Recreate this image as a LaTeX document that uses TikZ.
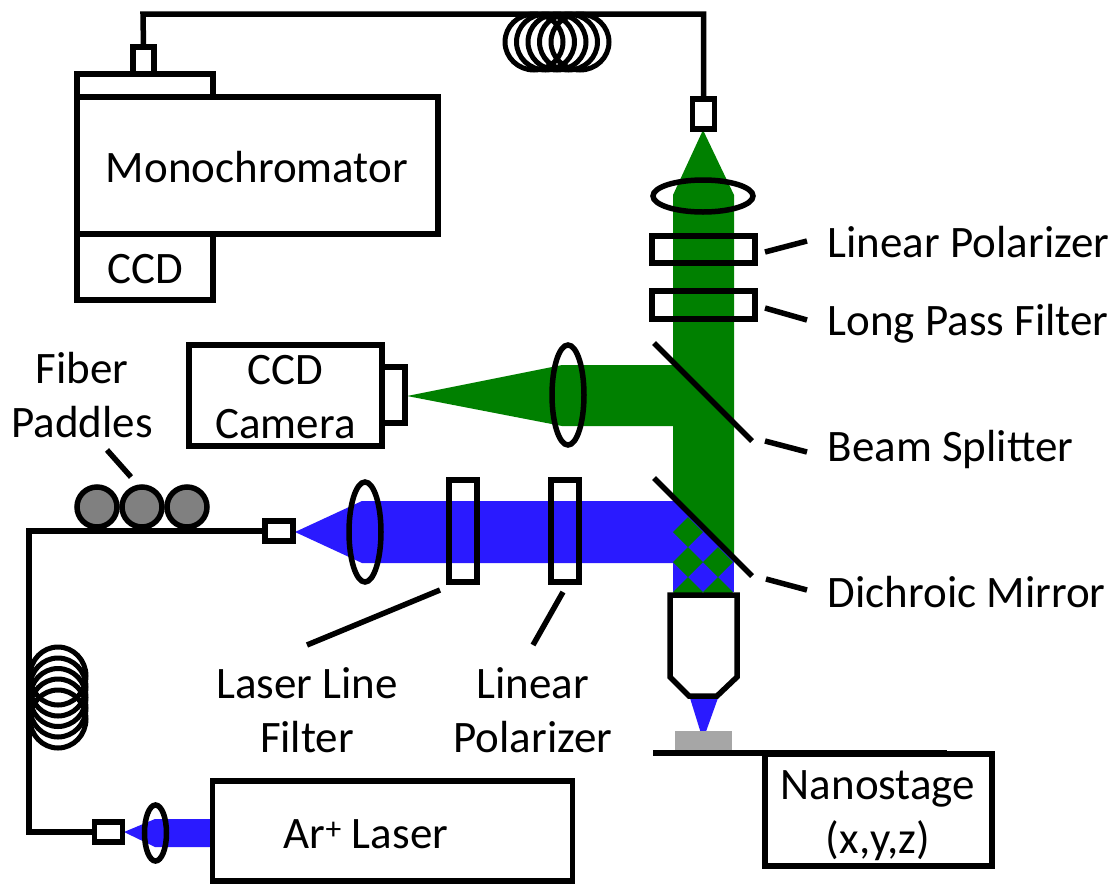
\documentclass[tikz,border=0pt]{standalone}
\usepackage{fontspec}
\setmainfont{Carlito}
\usetikzlibrary{shapes.geometric}
\definecolor{beamgreen}{RGB}{0,128,0}
\definecolor{beamblue}{RGB}{42,26,255}
\tikzset{
boxnode/.style={draw,rectangle,fill=white,inner sep=0pt,outer sep=0pt},
opennode/.style={draw,rectangle,inner sep=0pt,outer sep=0pt},
lensnode/.style={draw,ellipse,inner sep=0pt,outer sep=0pt},
paddlenode/.style={draw,circle,fill=black!50,minimum size=40,inner sep=0pt},
labelnode/.style={anchor=base west,inner sep=0pt},
textnode/.style={align=center,inner sep=0pt},
}
\begin{document}
\begin{tikzpicture}[x=1pt,y=-1pt,line width=5.5pt,font=\fontsize{45}{54}\selectfont]
\useasboundingbox(0,0)rectangle(1114,884);
\fill[beamblue](295,532)--(362,501)--(690,501)--(690,563)--(362,563)--cycle;
\fill[beamblue](673,499)rectangle(734,592);
\fill[beamgreen](407,396)--(562,365)--(680,365)--(680,426)--(562,426)--cycle;
\fill[beamgreen](703,130)--(734,195)--(734,560)--(673,499)--(673,195)--cycle;
\foreach \i/\j in {688/532,688/562,718/562,688/592,718/592}
\fill[beamgreen](\i-15,\j)--(\i,\j-15)--(\i+15,\j)--(\i,\j+15)--cycle;
\fill[beamblue](690,698)--(718,698)--(703,740)--cycle;
\fill[black!35](675,731)rectangle(732,751);
\fill[beamblue](124,832)--(155,819)--(211,819)--(211,847)--(155,847)--cycle;
\node[boxnode,minimum width=136,minimum height=23](slit)at(145,85.5){};
\node[boxnode,minimum width=361,minimum height=137](mono)at(257.5,165.5){};
\node[textnode](monotext)at(257,167){Monochromator};
\node[boxnode,minimum width=136,minimum height=66](ccd)at(145,267){};
\node[textnode](ccdtext)at(145,269){CCD};
\node[boxnode,minimum width=21,minimum height=27](monoport)at(143.5,60.5){};
\node[boxnode,minimum width=22,minimum height=30](topport)at(703.5,114){};
\node[boxnode,minimum width=193,minimum height=101](camera)at(285.5,395.5){};
\node[textnode](cameratext)at(285.5,397.5){CCD\\Camera};
\node[boxnode,minimum width=23,minimum height=56](cameraport)at(393.5,395){};
\node[boxnode,minimum width=360,minimum height=100](laser)at(392.5,831){};
\node[textnode](lasertext)at(366,834){Ar\textsuperscript{+} Laser};
\node[boxnode,minimum width=227,minimum height=112](stage)at(878.5,810){};
\node[textnode](stagetext)at(878,816){Nanostage\\(x,y,z)};
\node[boxnode,minimum width=28,minimum height=20](launchport)at(108.5,832){};
\node[boxnode,minimum width=28,minimum height=20](beamport)at(279,531){};
\node[lensnode,minimum width=100,minimum height=32](toplens)at(703,196){};
\node[opennode,minimum width=103,minimum height=27](toppol)at(703.5,249.5){};
\node[opennode,minimum width=103,minimum height=28](lpf)at(703.5,305){};
\node[lensnode,minimum width=32,minimum height=100](cameralens)at(568,395){};
\node[lensnode,minimum width=32,minimum height=100](beamlens)at(365,532){};
\node[opennode,minimum width=28,minimum height=102](llf)at(463,531){};
\node[opennode,minimum width=28,minimum height=102](bluepol)at(565,531){};
\node[lensnode,minimum width=22,minimum height=56](launchlens)at(155.5,833){};
\foreach \i/\n in {97/a,142/b,187/c}
\node[paddlenode](paddle\n)at(\i,507){};
\node[labelnode](lbltoppol)at(825,257){Linear Polarizer};
\node[labelnode](lbllpf)at(825,335){Long Pass Filter};
\node[labelnode](lblsplit)at(825,461){Beam Splitter};
\node[labelnode](lbldich)at(825,607){Dichroic Mirror};
\node[textnode](lblpaddle)at(82,395){Fiber\\Paddles};
\node[textnode](lblllf)at(307,710){Laser Line\\Filter};
\node[textnode](lblpol)at(533,710){Linear\\Polarizer};
\coordinate(A)at(654,343);
\coordinate(B)at(752,441);
\coordinate(C)at(654,478);
\coordinate(D)at(752,576);
\coordinate(E)at(143,14);
\coordinate(F)at(29,531);
\draw(A)--(B)(C)--(D);
\draw(monoport.north)--(E)-|(topport.north);
\draw(beamport.west)--(F)|-(launchport.west);
\foreach \i in {534,545.5,557,568.5,580}
\draw[line width=5pt](\i,42)ellipse(29 and 28);
\foreach \j in {676,687,697.5,708,719}
\draw[line width=5pt](58,\j)ellipse(28 and 29);
\draw[fill=white](670,595)--(737,595)--(737,677)--(717,696)--(689,696)--(670,677)--cycle;
\draw(653,753)--(947,753);
\draw(765,308)--(807,320)(765,252)--(807,241)(765,441)--(807,452)(766,579)--(807,590);
\draw(131,477)--(107,450)(440,590)--(307,645)(563,592)--(533,645);
\end{tikzpicture}
\end{document}
